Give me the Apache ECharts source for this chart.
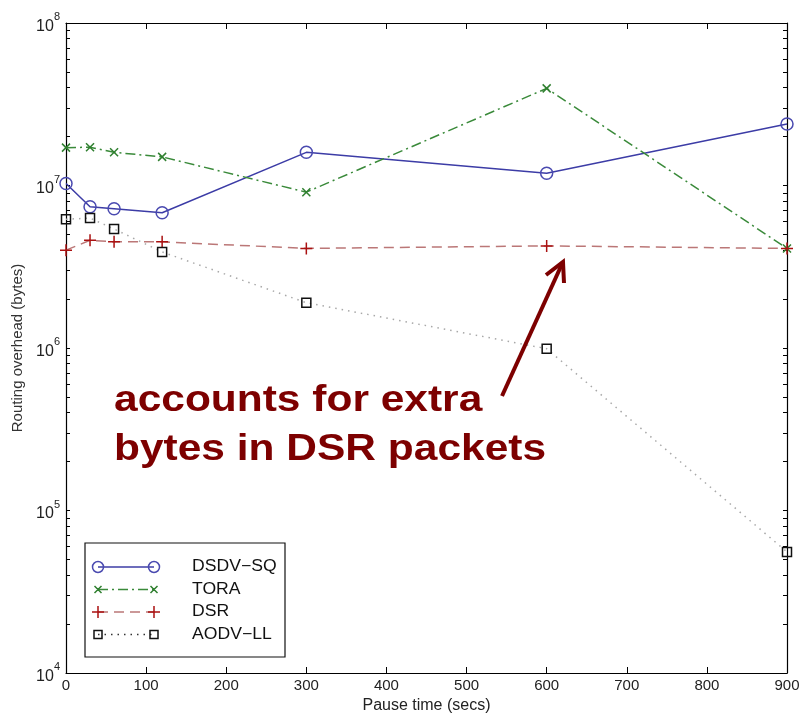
<!DOCTYPE html>
<html>
<head>
<meta charset="utf-8">
<script src="https://cdn.jsdelivr.net/npm/echarts@6/dist/echarts.min.js"></script>
<style>
  html, body { margin: 0; padding: 0; background: #fff; }
  #chart { width: 811px; height: 721px; }
</style>
</head>
<body>
<div id="chart"></div>
<script>
// pause times (x) and routing overhead in bytes (y) per protocol
const pauseTimes = [0, 30, 60, 120, 300, 600, 900];
const dsdvSq = [1.03e7, 7.4e6, 7.2e6, 6.8e6, 1.6e7, 1.19e7, 2.39e7];
const tora   = [1.71e7, 1.72e7, 1.6e7, 1.5e7, 9.1e6, 3.96e7, 4.1e6];
const dsr    = [4.0e6, 4.6e6, 4.5e6, 4.5e6, 4.1e6, 4.25e6, 4.1e6];
const aodvLl = [6.2e6, 6.3e6, 5.4e6, 3.9e6, 1.9e6, 9.9e5, 5.56e4];

const xTicks = [0, 100, 200, 300, 400, 500, 600, 700, 800, 900];
const yDecades = [1e4, 1e5, 1e6, 1e7, 1e8];

const FONT = 'Liberation Sans, Arial, sans-serif';

// minor ticks 2..9 in every decade
const yMinor = [];
for (let d = 0; d < yDecades.length - 1; d++) {
  for (let m = 1; m <= 9; m++) yMinor.push(yDecades[d] * m);
}
yMinor.push(yDecades[yDecades.length - 1]);

const X_PATH = 'path://M0,0L10,10M10,0L0,10';
const PLUS_PATH = 'path://M5,0L5,10M0,5L10,5';

const styles = [
  { name: 'DSDV-SQ', data: dsdvSq, line: '#3c3ca6', mark: '#4a4ab0', dash: 'solid', symbol: 'circle', size: 12 },
  { name: 'TORA', data: tora, line: '#3a8a3a', mark: '#2f7f2f', dash: [10, 4, 2, 4], symbol: X_PATH, size: 8 },
  { name: 'DSR', data: dsr, line: '#bb7777', mark: '#aa1111', dash: [10, 6], symbol: PLUS_PATH, size: 12 },
  { name: 'AODV-LL', data: aodvLl, line: '#a8a8a8', mark: '#111111', dash: [1.5, 5], symbol: 'rect', size: 9 }
];

const chart = echarts.init(document.getElementById('chart'));

const series = styles.map(s => ({
  name: s.name,
  type: 'line',
  data: pauseTimes.map((x, i) => [x, s.data[i]]),
  symbol: s.symbol,
  symbolSize: s.size,
  showAllSymbol: true,
  lineStyle: { color: s.line, width: 1.5, type: s.dash },
  itemStyle: { color: 'rgba(0,0,0,0)', borderColor: s.mark, borderWidth: 1.5 },
  emphasis: { disabled: true },
  z: 3
}));

// legend drawn by hand so markers sit at both ends of the sample line
const legendItems = [];
legendItems.push({
  type: 'rect', shape: { x: 85, y: 543, width: 200, height: 114 },
  style: { fill: '#fff', stroke: '#111', lineWidth: 1.2 }, z: 10
});
const markerShape = (sym, cx, cy, color) => {
  if (sym === 'circle') {
    return { type: 'circle', shape: { cx, cy, r: 5.5 }, style: { fill: 'none', stroke: color, lineWidth: 1.5 }, z: 11 };
  }
  if (sym === 'rect') {
    return { type: 'rect', shape: { x: cx - 4, y: cy - 4, width: 8, height: 8 }, style: { fill: 'none', stroke: color, lineWidth: 1.5 }, z: 11 };
  }
  if (sym === X_PATH) {
    return { type: 'polyline', shape: { points: [[cx - 3.5, cy - 3.5], [cx + 3.5, cy + 3.5], [cx, cy], [cx + 3.5, cy - 3.5], [cx - 3.5, cy + 3.5]] }, style: { stroke: color, lineWidth: 1.5, fill: 'none' }, z: 11 };
  }
  return { type: 'polyline', shape: { points: [[cx - 6, cy], [cx + 6, cy], [cx, cy], [cx, cy - 6], [cx, cy + 6]] }, style: { stroke: color, lineWidth: 1.5, fill: 'none' }, z: 11 };
};
styles.forEach((s, i) => {
  const y = 567 + i * 22.5;
  const x1 = 98, x2 = 154;
  legendItems.push({
    type: 'line', shape: { x1, y1: y, x2, y2: y },
    style: { stroke: s.line === '#a8a8a8' ? '#333' : s.line, lineWidth: 1.5, lineDash: s.dash === 'solid' ? null : s.dash },
    z: 11
  });
  legendItems.push(markerShape(s.symbol, x1, y, s.mark));
  legendItems.push(markerShape(s.symbol, x2, y, s.mark));
  legendItems.push({
    type: 'text', x: 192, y: y, scaleX: 1.1,
    style: { text: s.name.replace('-', '\u2212'), font: '16px ' + FONT, fill: '#111', verticalAlign: 'middle' },
    z: 11
  });
});

// annotation text and arrow
const annot = [
  {
    type: 'text', x: 114, y: 377, scaleX: 1.18,
    style: {
      text: 'accounts for extra\nbytes in DSR packets',
      font: 'bold 36px ' + FONT, fill: '#7d0000', lineHeight: 49
    },
    z: 12
  },
  {
    type: 'line', shape: { x1: 502, y1: 396, x2: 562, y2: 264 },
    style: { stroke: '#7d0000', lineWidth: 4 }, z: 12
  },
  {
    type: 'polyline', shape: { points: [[546, 275], [563, 262], [564, 283]] },
    style: { stroke: '#7d0000', lineWidth: 4, fill: 'none' }, z: 12
  }
];

const axisLine = { show: true, onZero: false, lineStyle: { color: '#000', width: 1.2 } };

chart.setOption({
  animation: false,
  backgroundColor: '#fff',
  textStyle: { fontFamily: FONT },
  grid: { left: 66, right: 24, top: 23, bottom: 48, containLabel: false },
  xAxis: [
    {
      type: 'value', min: 0, max: 900, interval: 100, position: 'bottom',
      name: 'Pause time (secs)', nameLocation: 'middle', nameGap: 23,
      nameTextStyle: { fontSize: 16, color: '#222', fontFamily: FONT },
      axisLine,
      axisTick: { show: true, inside: true, length: 6, lineStyle: { color: '#000' } },
      axisLabel: { fontSize: 15, color: '#222', margin: 5, customValues: xTicks },
      splitLine: { show: false }
    },
    {
      type: 'value', min: 0, max: 900, interval: 100, position: 'top',
      axisLine,
      axisTick: { show: true, inside: true, length: 6, lineStyle: { color: '#000' } },
      axisLabel: { show: false },
      splitLine: { show: false }
    }
  ],
  yAxis: [
    {
      type: 'log', logBase: 10, min: 1e4, max: 1e8, position: 'left',
      name: 'Routing overhead (bytes)', nameLocation: 'middle', nameGap: 35,
      nameTextStyle: { fontSize: 15, color: '#333', fontFamily: FONT },
      axisLine,
      axisTick: { show: true, inside: true, length: 4, customValues: yMinor, lineStyle: { color: '#000' } },
      axisLabel: {
        margin: 6,
        customValues: yDecades,
        formatter: v => '{b|10}{s|' + Math.round(Math.log10(v)) + '}',
        rich: {
          b: { fontSize: 16, color: '#222', fontFamily: FONT, verticalAlign: 'bottom' },
          s: { fontSize: 11, color: '#222', fontFamily: FONT, verticalAlign: 'top', padding: [0, 0, 12, 0] }
        }
      },
      splitLine: { show: false }
    },
    {
      type: 'log', logBase: 10, min: 1e4, max: 1e8, position: 'right',
      axisLine,
      axisTick: { show: true, inside: true, length: 4, customValues: yMinor, lineStyle: { color: '#000' } },
      axisLabel: { show: false },
      splitLine: { show: false }
    }
  ],
  series,
  graphic: legendItems.concat(annot)
});
</script>
</body>
</html>
